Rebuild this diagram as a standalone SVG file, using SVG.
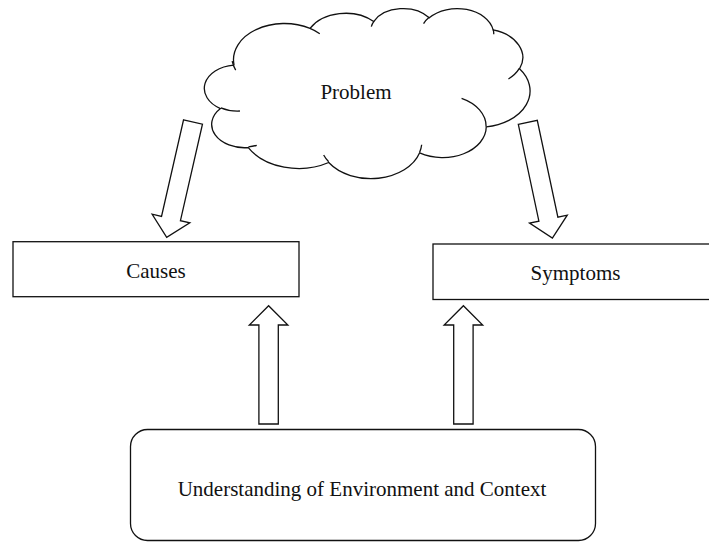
<svg xmlns="http://www.w3.org/2000/svg" xmlns:xlink="http://www.w3.org/1999/xlink" width="709" height="542" viewBox="0 0 709 542">
  <style>
    .shape { fill: #ffffff; stroke: #111111; stroke-width: 1.3; }
    .line { fill: none; stroke: #111111; stroke-width: 1.3; }
    .label { font-family: "Liberation Serif", "Times New Roman", serif; font-size: 21px; fill: #111111; text-anchor: middle; }
  </style>
  <defs>
    <!-- block arrow pointing down, origin at the middle of the tail end -->
    <polygon id="blockArrow" points="-9.7,0 9.7,0 9.7,99 19.3,99 0,118.3 -19.3,99 -9.7,99"/>
  </defs>

  <rect width="709" height="542" fill="#ffffff"/>

  <!-- cloud: outline built from eleven elliptical bumps in a 43200 unit box -->
  <g id="problem">
    <g transform="translate(204.6,8) scale(0.00753,0.003935)">
      <path class="shape" vector-effect="non-scaling-stroke" d="M3900,14370 A6753,9190 0 0 1 14005,5202 A5333,7267 0 0 1 22456,3432 A4365,5945 0 0 1 29834,2483 A4857,6595 0 0 1 38320,5578 A5333,7273 0 0 1 41820,15462 A6775,9220 0 0 1 37406,30205 A5785,7867 0 0 1 28558,36815 A6752,9215 0 0 1 16482,39267 A7720,10543 0 0 1 5806,35472 A4360,5918 0 0 1 2110,25557 A4345,5945 0 0 1 3861,14514 Z"/>
      <path class="line" vector-effect="non-scaling-stroke" d="M4693,26177 A4345,5945 0 0 1 2159,25379 M6928,34899 A4360,5918 0 0 1 5820,35280 M16478,39090 A6752,9215 0 0 1 15810,37349 M28827,34751 A6752,9215 0 0 1 28560,36660 M34129,22954 A5785,7867 0 0 1 37381,30090 M41798,15354 A5333,7273 0 0 1 40350,18030 M38324,5426 A4857,6595 0 0 1 38400,6690 M29078,3952 A4857,6595 0 0 1 29819,2341 M22141,4720 A4365,5945 0 0 1 22500,3329 M14000,5192 A6753,9190 0 0 1 15299,6539 M4127,15789 A6753,9190 0 0 1 3661,13524"/>
    </g>
    <text class="label" x="356" y="99">Problem</text>
  </g>

  <g id="causes">
    <rect class="shape" x="13" y="241.7" width="286" height="55"/>
    <text class="label" x="156" y="278">Causes</text>
  </g>

  <g id="symptoms">
    <rect class="shape" x="433" y="244" width="290" height="55.5"/>
    <text class="label" x="575.5" y="280">Symptoms</text>
  </g>

  <g id="context">
    <rect class="shape" x="130.5" y="429.5" width="465" height="111" rx="17" ry="17"/>
    <text class="label" x="362" y="496">Understanding of Environment and Context</text>
  </g>

  <g id="connectors">
    <use class="shape" xlink:href="#blockArrow" href="#blockArrow" transform="translate(193,122) rotate(12.85)"/>
    <use class="shape" xlink:href="#blockArrow" href="#blockArrow" transform="translate(527.8,122.3) rotate(-12)"/>
    <use class="shape" xlink:href="#blockArrow" href="#blockArrow" transform="translate(268.6,424) rotate(180)"/>
    <use class="shape" xlink:href="#blockArrow" href="#blockArrow" transform="translate(463.4,424) rotate(180)"/>
  </g>
</svg>
